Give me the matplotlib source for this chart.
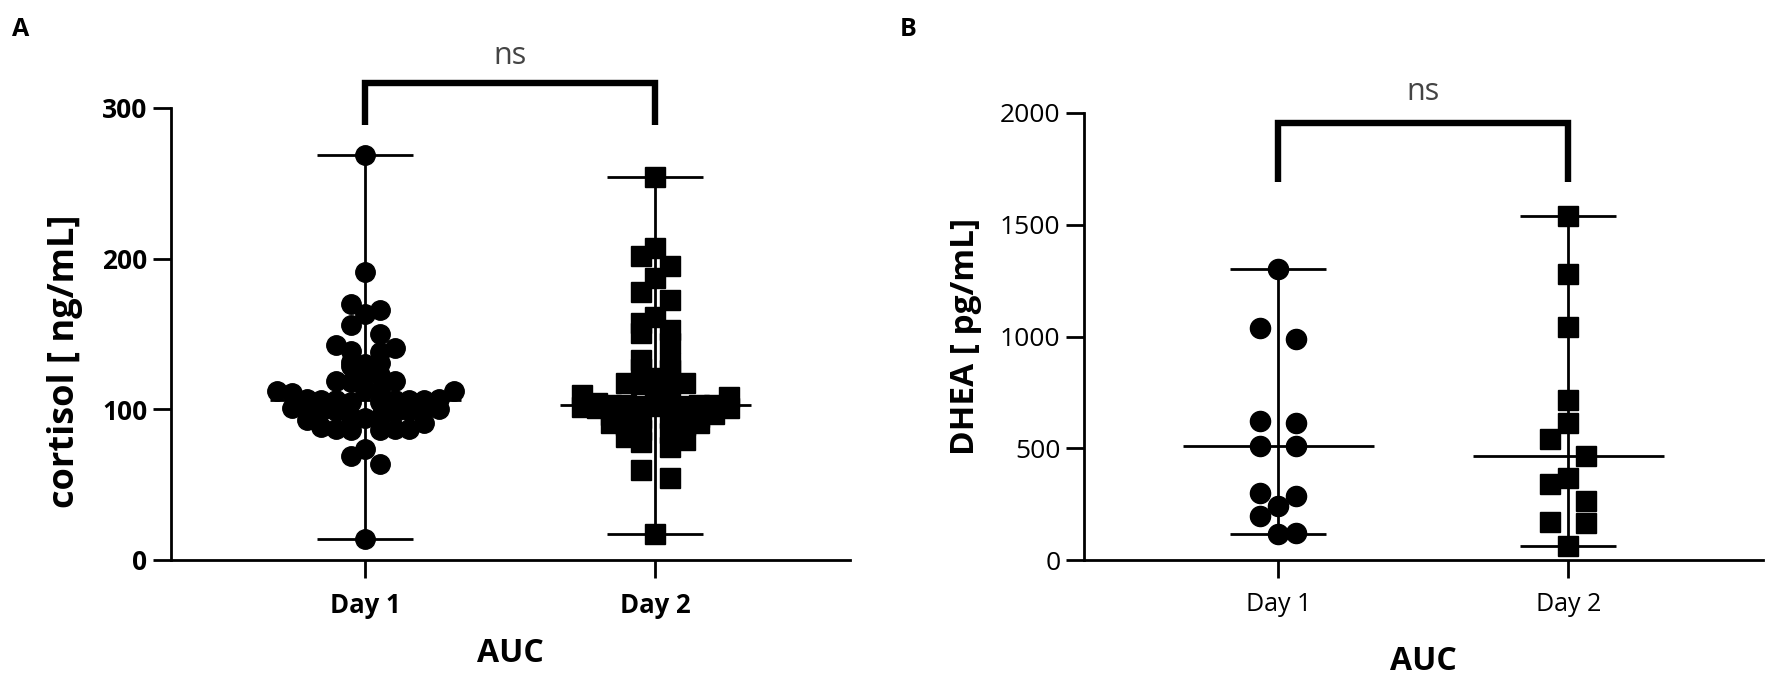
import matplotlib
matplotlib.use("Agg")
import matplotlib.pyplot as plt
import numpy as np

plt.rcParams['font.family'] = ['Open Sans', 'DejaVu Sans']

# cortisol AUC [ng/mL]
days = ['Day 1', 'Day 2']
cortisol_day1 = [269, 191, 170, 166, 163, 156, 150,
                 143, 141, 139, 138, 131.5, 131, 130, 129, 123, 122,
                 118.5, 118.5, 118, 113, 112, 112, 111, 113,
                 107, 106, 106, 106, 105, 106, 107, 105, 106,
                 100, 99, 101, 98, 99, 100, 100, 99,
                 95, 94, 95, 93, 87, 86, 91, 87, 87, 86, 88,
                 74, 69, 64, 14]
cortisol_day2 = [254.5, 207, 202, 195, 187, 178, 172.5, 161.5, 157, 152.6,
                 150.4, 143.8, 132.7, 130.5, 127, 126, 120.6,
                 117.3, 117.3, 115, 117, 109.5, 108.4, 110,
                 101.7, 102, 102, 103, 103, 101, 104, 102, 103, 101, 102, 103,
                 95, 94, 95, 96, 94, 95, 97,
                 90.7, 89.6, 89.6, 91,
                 86.3, 84, 81.8, 79.6, 78.5, 75.2, 59.7, 54.2, 17.3]

# DHEA AUC [pg/mL]
dhea_day1 = [1304, 1037, 989, 621, 611, 511, 511, 301, 288, 243, 195, 123, 118]
dhea_day2 = [1541, 1281, 1041, 718, 615, 541, 467, 366, 341, 264, 170, 166, 64]

XLIM = (0.33, 2.67)
FIG_W, FIG_H = 1775, 683


def swarm_offsets(vals, ax, vgap_px, step_px):
    # column scatter: group close values into rows, spread each row on a grid
    bbox = ax.get_position()
    x_per = bbox.width * FIG_W / (XLIM[1] - XLIM[0])
    y0, y1 = ax.get_ylim()
    y_per = bbox.height * FIG_H / (y1 - y0)
    vals = np.asarray(vals, dtype=float)
    order = np.argsort(vals, kind='stable')
    offs = np.zeros(len(vals))
    rows, cur = [], [order[0]]
    for i in order[1:]:
        if (vals[i] - vals[cur[0]]) * y_per < vgap_px:
            cur.append(i)
        else:
            rows.append(cur)
            cur = [i]
    rows.append(cur)
    for row in rows:
        n = len(row)
        if n % 2:
            slots = [0] + [s * k for k in range(1, n) for s in (1, -1)]
        else:
            slots = [s * k for k in range(1, n) for s in (1, -1)]
        for idx, slot in zip(row, slots):
            offs[idx] = slot * step_px / x_per
    return offs


def draw_panel(ax, groups, markers, ms, vgap, step):
    for pos, (vals, mk) in enumerate(zip(groups, markers), start=1):
        v = np.asarray(vals, dtype=float)
        off = swarm_offsets(v, ax, vgap, step)
        ax.plot(pos + off, v, linestyle='none', marker=mk, ms=ms,
                color='black', zorder=3, clip_on=False)
        med, lo, hi = np.median(v), v.min(), v.max()
        ax.vlines(pos, lo, hi, color='black', lw=2.0, zorder=4)
        ax.hlines([lo, hi], pos - 0.165, pos + 0.165, color='black', lw=2.0, zorder=4)
        ax.hlines(med, pos - 0.33, pos + 0.33, color='black', lw=2.0, zorder=4)
    ax.set_xlim(*XLIM)
    ax.set_xticks([1, 2])
    ax.set_xticklabels(days)
    for s in ['top', 'right']:
        ax.spines[s].set_visible(False)
    for s in ['left', 'bottom']:
        ax.spines[s].set_linewidth(2.0)
    ax.tick_params(axis='both', width=2.0, length=13, color='black')
    ax.tick_params(axis='y', pad=4)
    ax.tick_params(axis='x', pad=10)


def bracket(ax, top, leg, label, ytext):
    ax.plot([1, 1, 2, 2], [leg, top, top, leg], color='black', lw=4.6,
            solid_joinstyle='miter', solid_capstyle='butt', clip_on=False)
    ax.text(1.5, ytext, label, ha='center', va='center', fontsize=22,
            color='#444444', clip_on=False)


fig = plt.figure(figsize=(FIG_W / 100, FIG_H / 100), dpi=100)
axA = fig.add_axes([171 / FIG_W, 123 / FIG_H, 678.6 / FIG_W, 452 / FIG_H])
axB = fig.add_axes([1084 / FIG_W, 123 / FIG_H, 678.6 / FIG_W, 447 / FIG_H])

# panel A
axA.set_ylim(0, 300)
axA.set_yticks([0, 100, 200, 300])
draw_panel(axA, [cortisol_day1, cortisol_day2], ['o', 's'], 14, 12, 14.7)
for lab in axA.get_yticklabels() + axA.get_xticklabels():
    lab.set_fontweight('bold')
for lab in axA.get_yticklabels():
    lab.set_fontsize(19)
for lab in axA.get_xticklabels():
    lab.set_fontsize(18.5)
axA.set_ylabel('cortisol [ ng/mL]', fontsize=26, fontweight='bold', labelpad=14)
axA.yaxis.label.set_y(0.44)
axA.set_xlabel('AUC', fontsize=23, fontweight='bold', labelpad=13)
bracket(axA, 316.5, 288.6, 'ns', 334.5)

# panel B
axB.set_ylim(0, 2000)
axB.set_yticks([0, 500, 1000, 1500, 2000])
draw_panel(axB, [dhea_day1, dhea_day2], ['o', 's'], 14.5, 19, 18)
for lab in axB.get_yticklabels():
    lab.set_fontsize(19)
for lab in axB.get_xticklabels():
    lab.set_fontsize(18)
axB.set_ylabel('DHEA [ pg/mL]', fontsize=24, fontweight='bold', labelpad=13)
axB.set_xlabel('AUC', fontsize=23, fontweight='bold', labelpad=20)
bracket(axB, 1955, 1691, 'ns', 2092)

fig.text(12 / FIG_W, 1 - 30 / FIG_H, 'A', fontsize=18, fontweight='bold', va='center')
fig.text(900 / FIG_W, 1 - 30 / FIG_H, 'B', fontsize=18, fontweight='bold', va='center')

fig.savefig('out.png', dpi=100)
